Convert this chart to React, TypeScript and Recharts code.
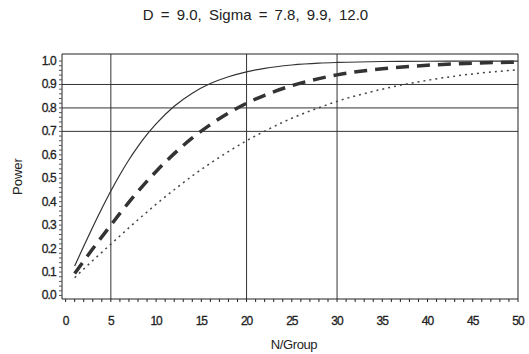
import { LineChart, Line, XAxis, YAxis, ReferenceLine } from "recharts";

const nPerGroup = [1, 2, 3, 4, 5, 6, 7, 8, 9, 10, 12, 14, 16, 18, 20, 22, 25, 28, 30, 35, 40, 45, 50];
const sigma78 = [0.126, 0.21, 0.292, 0.371, 0.446, 0.515, 0.579, 0.636, 0.687, 0.732, 0.807, 0.863, 0.904, 0.933, 0.954, 0.969, 0.983, 0.991, 0.994, 0.998, 0.999, 1.0, 1.0];
const sigma99 = [0.094, 0.147, 0.199, 0.25, 0.3, 0.35, 0.398, 0.444, 0.488, 0.529, 0.605, 0.672, 0.729, 0.778, 0.82, 0.854, 0.895, 0.925, 0.941, 0.967, 0.982, 0.991, 0.995];
const sigma120 = [0.076, 0.113, 0.149, 0.184, 0.219, 0.254, 0.289, 0.323, 0.356, 0.389, 0.451, 0.51, 0.564, 0.614, 0.66, 0.701, 0.756, 0.801, 0.828, 0.88, 0.918, 0.945, 0.963];

const xRefLines = [5, 20, 30];
const yRefLines = [0.7, 0.8, 0.9];

const data = nPerGroup.map((n, i) => ({
  n,
  s1: sigma78[i],
  s2: sigma99[i],
  s3: sigma120[i],
}));

const xTicks = Array.from({ length: 51 }, (_, i) => i);
const yTicks = Array.from({ length: 51 }, (_, i) => +(i * 0.02).toFixed(2));

const FONT = "'Liberation Sans', Arial, sans-serif";
const INK = "#222";

const XTick = (props: any) => {
  const { x, y, payload } = props;
  if (payload.value % 5 !== 0) return null;
  return (
    <text x={x} y={y + 21} textAnchor="middle" fontSize={12} fill={INK} stroke={INK} strokeWidth={0.3} fontFamily={FONT} letterSpacing={-1}>
      {payload.value}
    </text>
  );
};

const YTick = (props: any) => {
  const { x, y, payload } = props;
  const v = payload.value;
  if (Math.abs(v * 10 - Math.round(v * 10)) > 1e-6) return null;
  return (
    <text x={x - 1} y={y + 4} textAnchor="end" fontSize={12} fill={INK} stroke={INK} strokeWidth={0.3} fontFamily={FONT} letterSpacing={-0.8}>
      {v.toFixed(1)}
    </text>
  );
};

export default function App() {
  return (
    <div style={{ position: "absolute", left: 0, top: 0, width: 529, height: 354, background: "#fff", fontFamily: FONT }}>
      <div style={{ position: "absolute", left: -9, width: 529, top: 6, textAlign: "center", fontSize: 15, color: INK, wordSpacing: 3 }}>
        D = 9.0, Sigma = 7.8, 9.9, 12.0
      </div>
      <div style={{ position: "absolute", left: 244, top: 337, width: 100, textAlign: "center", fontSize: 13, color: INK, letterSpacing: -0.4 }}>
        N/Group
      </div>
      <div style={{ position: "absolute", left: -23, top: 169, width: 80, textAlign: "center", fontSize: 13, color: INK, transform: "rotate(-90deg)" }}>
        Power
      </div>
      <LineChart width={529} height={354} data={data} margin={{ top: 54, right: 11, bottom: 35, left: 0 }}>
        <XAxis
          dataKey="n"
          type="number"
          domain={[-0.4, 50]}
          ticks={xTicks}
          interval={0}
          height={20}
          tick={<XTick />}
          tickSize={3}
          tickMargin={2}
          axisLine={{ stroke: INK }}
          tickLine={{ stroke: INK }}
        />
        <YAxis
          type="number"
          domain={[-0.015, 1.03]}
          ticks={yTicks}
          interval={0}
          width={62}
          tick={<YTick />}
          tickSize={3}
          tickMargin={2}
          axisLine={{ stroke: INK }}
          tickLine={{ stroke: "#555" }}
        />
        {yRefLines.map((v) => (
          <ReferenceLine key={"y" + v} y={v} stroke="#333" strokeWidth={1} />
        ))}
        {xRefLines.map((v) => (
          <ReferenceLine key={"x" + v} x={v} stroke="#333" strokeWidth={1} />
        ))}
        <ReferenceLine y={1.03} stroke={INK} />
        <ReferenceLine x={50} stroke={INK} />
        <Line dataKey="s1" type="monotone" stroke="#333" strokeWidth={1.2} dot={false} isAnimationActive={false} />
        <Line dataKey="s2" type="monotone" stroke="#333" strokeWidth={3.5} strokeDasharray="13 8" dot={false} isAnimationActive={false} />
        <Line dataKey="s3" type="monotone" stroke="#444" strokeWidth={1.5} strokeDasharray="2 4" dot={false} isAnimationActive={false} />
      </LineChart>
    </div>
  );
}
